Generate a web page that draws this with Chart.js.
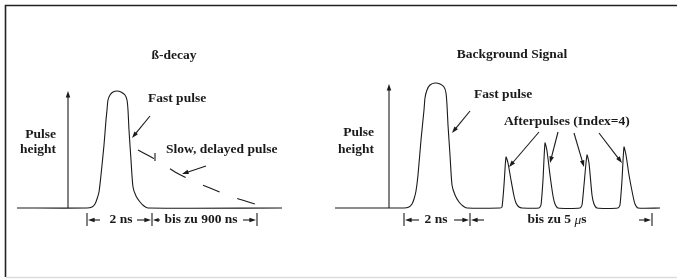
<!DOCTYPE html>
<html><head><meta charset="utf-8">
<script src="https://cdn.jsdelivr.net/npm/chart.js@4/dist/chart.umd.min.js"></script>
<style>html,body{margin:0;padding:0;background:#fff}#wrap{width:677px;height:279px;position:relative}</style>
</head><body><div id="wrap"><canvas id="c"></canvas></div>
<script>
// Pulse shapes: [time position, pulse height]
const betaSignal = [[17,0],[87,0],[92,1],[95,4],[97,9],[99,16],[101,33],[104,63],[106,88],[107,98],[108,108],[110,113],[113,116],[117,117],[121,116],[125,113],[127,108],[128,98],[129,78],[131,48],[133,21],[136,12],[140,6],[144,2],[148,0],[282,0]];
const slowPulse = [[138,58],[160,46],[175,36],[193,27],[210,20],[230,12],[258,3]];
const backgroundSignal = [[335,0],[404,0],[409,1],[412,4],[414,9],[416,17],[418,33],[421,68],[424,98],[425,110],[427,118],[430,123],[435,125],[440,124],[444,121],[446,115],[447,103],[448,83],[450,53],[452,23],[455,13],[459,6],[463,2],[467,0],
  [500,0],[502,1],[504,23],[506,51],[508,45],[511,28],[514,12],[516,5],[519,1],[522,0],
  [539,0],[541,3],[543,28],[545,65],[547,57],[550,33],[553,12],[555,4],[558,0],
  [580,0],[582,3],[584,23],[587,53],[589,45],[592,13],[594,4],[597,0],
  [618,0],[620,3],[622,28],[624,61],[626,53],[629,33],[633,12],[635,4],[638,0],[660,0]];

const titles = ["ß-decay", "Background Signal"];
const labels = ["Fast pulse", "Slow, delayed pulse", "Afterpulses (Index=4)", "Pulse", "height"];
const spanLabels = ["2 ns", "bis zu 900 ns", "bis zu 5 "];

const FS = 13.5;
const FONT = "bold " + FS + "px 'Liberation Serif', 'Times New Roman', serif";
const IFONT = "italic " + FS + "px 'Liberation Serif', 'Times New Roman', serif";
const INK = '#1a1a1a';

const diagramPlugin = {
  id: 'diagram',
  afterDatasetsDraw(chart) {
    const {ctx, scales:{x, y}} = chart;
    const X = v => x.getPixelForValue(v), Y = v => y.getPixelForValue(v);
    ctx.save();
    // frame
    ctx.strokeStyle = '#222'; ctx.lineWidth = 1.6;
    ctx.beginPath(); ctx.moveTo(5.5, 277); ctx.lineTo(5.5, 5.5); ctx.lineTo(677, 5.5); ctx.stroke();
    ctx.strokeStyle = '#dcdcdc'; ctx.lineWidth = 1.5;
    ctx.beginPath(); ctx.moveTo(6, 277.5); ctx.lineTo(677, 277.5); ctx.stroke();

    function arrow(x1, y1, x2, y2, head) {
      head = head || 7;
      const px1 = X(x1), py1 = Y(y1), px2 = X(x2), py2 = Y(y2);
      const a = Math.atan2(py2 - py1, px2 - px1);
      ctx.strokeStyle = INK; ctx.fillStyle = INK; ctx.lineWidth = 1.1;
      ctx.beginPath(); ctx.moveTo(px1, py1);
      ctx.lineTo(px2 - Math.cos(a) * head * 0.8, py2 - Math.sin(a) * head * 0.8); ctx.stroke();
      ctx.beginPath(); ctx.moveTo(px2, py2);
      ctx.lineTo(px2 - head * Math.cos(a - 0.33), py2 - head * Math.sin(a - 0.33));
      ctx.lineTo(px2 - head * Math.cos(a + 0.33), py2 - head * Math.sin(a + 0.33));
      ctx.closePath(); ctx.fill();
    }
    function line(x1, y1, x2, y2) {
      ctx.strokeStyle = INK; ctx.lineWidth = 1.1;
      ctx.beginPath(); ctx.moveTo(X(x1), Y(y1)); ctx.lineTo(X(x2), Y(y2)); ctx.stroke();
    }
    function text(t, xv, yv, align) {
      ctx.font = FONT; ctx.fillStyle = INK; ctx.textAlign = align || 'left'; ctx.textBaseline = 'middle';
      ctx.fillText(t, X(xv), Y(yv));
    }
    // vertical axis arrows
    arrow(68, 0, 68, 117, 7);
    arrow(389, 0, 389, 124, 7);
    // titles
    text(titles[0], 174, 152, 'center');
    text(titles[1], 512, 153, 'center');
    // pulse height labels
    text(labels[3], 56, 73, 'right'); text(labels[4], 56, 58, 'right');
    text(labels[3], 374, 75, 'right'); text(labels[4], 374, 58, 'right');
    // fast pulse
    text(labels[0], 148, 109); arrow(150, 92, 132, 70);
    text(labels[0], 474, 113); arrow(470, 97, 452, 75);
    // slow pulse
    text(labels[1], 166, 58); arrow(206, 42, 182, 34);
    line(155, 55, 155, 47);
    // afterpulses
    text(labels[2], 504, 86);
    arrow(539, 76, 509, 41); arrow(558, 76, 550, 45); arrow(574, 75, 584, 41); arrow(599, 75, 622, 45);
    // dimension lines
    [87, 152, 257, 404, 470, 652].forEach(t => line(t, -5, t, -18));
    const d = -12;
    arrow(100, d, 88, d, 7); arrow(137, d, 151, d, 7); arrow(160, d, 153, d, 6); arrow(243, d, 256, d, 7);
    text(spanLabels[0], 121, d, 'center');
    text(spanLabels[1], 201, d, 'center');
    arrow(419, d, 405, d, 7); arrow(454, d, 469, d, 7); arrow(484, d, 471, d, 7); arrow(639, d, 651, d, 7);
    text(spanLabels[0], 436, d, 'center');
    // "bis zu 5 μs" with italic mu
    ctx.font = FONT; const w1 = ctx.measureText(spanLabels[2]).width;
    ctx.font = IFONT; const w2 = ctx.measureText('μ').width;
    ctx.font = FONT; const w3 = ctx.measureText('s').width;
    let sx = X(557) - (w1 + w2 + w3) / 2; const sy = Y(d);
    ctx.textAlign = 'left'; ctx.textBaseline = 'middle'; ctx.fillStyle = INK;
    ctx.fillText(spanLabels[2], sx, sy); sx += w1;
    ctx.font = IFONT; ctx.fillText('μ', sx, sy); sx += w2;
    ctx.font = FONT; ctx.fillText('s', sx, sy);
    ctx.restore();
  }
};

const toPts = arr => arr.map(([a, b]) => ({x: a, y: b}));
new Chart(document.getElementById('c'), {
  type: 'line',
  data: { datasets: [
    { data: toPts(betaSignal), borderColor: INK, borderWidth: 1.1, pointRadius: 0, tension: 0.25, fill: false },
    { data: toPts(slowPulse), borderColor: INK, borderWidth: 1.1, pointRadius: 0, tension: 0.3, borderDash: [18, 19], fill: false },
    { data: toPts(backgroundSignal), borderColor: INK, borderWidth: 1.1, pointRadius: 0, tension: 0.2, fill: false }
  ]},
  options: {
    responsive: true, maintainAspectRatio: false, animation: false,
    layout: { padding: 0 },
    plugins: { legend: { display: false }, tooltip: { enabled: false } },
    scales: {
      x: { type: 'linear', min: 0, max: 677, display: false },
      y: { type: 'linear', min: -71, max: 208, display: false }
    }
  },
  plugins: [diagramPlugin]
});
</script></body></html>
